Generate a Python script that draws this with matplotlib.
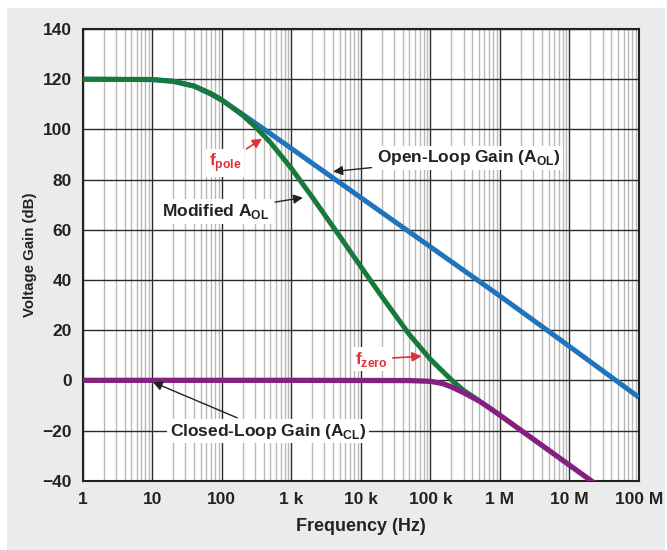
import numpy as np
import matplotlib
matplotlib.use("Agg")
import matplotlib.pyplot as plt
from matplotlib.patches import Rectangle
from matplotlib.ticker import FixedLocator, LogLocator, NullFormatter

plt.rcParams['font.family'] = ['Liberation Sans', 'DejaVu Sans']
plt.rcParams['mathtext.fontset'] = 'custom'
plt.rcParams['mathtext.rm'] = 'Liberation Sans'
plt.rcParams['mathtext.bf'] = 'Liberation Sans:bold'

# values (Hz, dB)
freq_ol = [1, 10, 20, 40, 70, 100, 200, 500, 1e3, 1e4, 1e5, 1e6, 1e7, 1e8]
gain_ol = [120, 119.8, 119.1, 117.2, 114.0, 111.6, 106.0, 98.3, 92.4, 72.8, 53.2, 33.6, 13.5, -6.8]

freq_mod = [1, 10, 20, 40, 70, 100, 200, 300, 500, 1e3, 2e3, 5e3, 1e4, 2e4, 5e4, 1e5, 2e5, 3e5, 5e5]
gain_mod = [120, 119.9, 119.2, 117.3, 114.3, 111.8, 105.6, 101.2, 94.8, 84.5, 73.0, 57.3, 45.3, 33.4, 18.2, 8.4, 0.2, -4.0, -8.1]

freq_cl = [1, 1e3, 5e4, 1e5, 1.5e5, 2e5, 3e5, 5e5, 7e5, 1e6, 2e6, 5e6, 1e7, 2e7, 3e7]
gain_cl = [0, 0, -0.1, -0.4, -1.3, -2.6, -4.9, -8.2, -10.9, -13.9, -19.9, -27.8, -33.8, -39.8, -43.3]

xticks = [1, 10, 100, 1e3, 1e4, 1e5, 1e6, 1e7, 1e8]
xlabels = ['1', '10', '100', '1 k', '10 k', '100 k', '1 M', '10 M', '100 M']
yticks = list(range(-40, 141, 20))

blue = '#1f74bd'
green = '#177a3a'
purple = '#84207f'
red = '#e2303a'
ink = '#222222'

fig = plt.figure(figsize=(6.67, 5.5), dpi=100, facecolor='white')
fig.patches.append(Rectangle((7 / 667, 0), 658 / 667, 542 / 550, transform=fig.transFigure,
                             facecolor='#ebebec', edgecolor='none', zorder=-10))
ax = fig.add_axes([82.7 / 667, 1 - 480.7 / 550, (639 - 82.7) / 667, (480.7 - 29) / 550])

ax.plot(freq_ol, gain_ol, color=blue, lw=3.6, zorder=3, solid_capstyle='butt')
ax.plot(freq_mod, gain_mod, color=green, lw=3.6, zorder=4, solid_capstyle='butt')
ax.plot(freq_cl, gain_cl, color=purple, lw=3.8, zorder=5, solid_capstyle='butt')

ax.set_xscale('log')
ax.set_xlim(1, 1e8)
ax.set_ylim(-40, 140)
ax.xaxis.set_major_locator(FixedLocator(xticks))
ax.set_xticklabels(xlabels)
ax.xaxis.set_minor_locator(LogLocator(base=10, subs=np.arange(2, 10), numticks=100))
ax.xaxis.set_minor_formatter(NullFormatter())
ax.set_yticks(yticks)
ax.set_yticklabels([str(v).replace('-', '\u2212') for v in yticks])

ax.grid(which='minor', axis='x', color='#b8b8b8', lw=1.0, zorder=0)
ax.grid(which='major', axis='both', color='#2b2b2b', lw=1.0, zorder=1)
ax.tick_params(which='both', length=0)
ax.tick_params(axis='x', pad=8)
ax.tick_params(axis='y', pad=8)
for lab in ax.get_xticklabels() + ax.get_yticklabels():
    lab.set_fontsize(12.5)
    lab.set_fontweight('bold')
    lab.set_color(ink)
for s in ax.spines.values():
    s.set_linewidth(1.5)
    s.set_color(ink)

ax.set_xlabel('Frequency (Hz)', fontsize=13, fontweight='bold', color=ink, labelpad=8)
ax.set_ylabel('Voltage Gain (dB)', fontsize=10.8, fontweight='bold', color=ink, labelpad=4)

box = dict(boxstyle='square,pad=0.15', facecolor='white', edgecolor='none')
black_arrow = dict(arrowstyle='-|>', color=ink, lw=1.0, mutation_scale=14, shrinkA=2, shrinkB=0)
red_arrow = dict(arrowstyle='-|>', color=red, lw=1.2, mutation_scale=14, shrinkA=2, shrinkB=0)

ax.annotate(r'f$_{\mathbf{pole}}$', xy=(380, 96.3), xytext=(112, 86.7), color=red,
            fontsize=12.5, fontweight='bold', ha='center', va='center',
            arrowprops=red_arrow, bbox=box, zorder=6)
ax.annotate(r'Open-Loop Gain (A$_{\mathbf{OL}}$)', xy=(4.0e3, 83.2), xytext=(17e3, 88.7),
            color=ink, fontsize=12.5, fontweight='bold', ha='left', va='center',
            arrowprops=black_arrow, bbox=box, zorder=6)
ax.annotate(r'Modified A$_{\mathbf{OL}}$', xy=(1.47e3, 72.8), xytext=(490, 67.3),
            color=ink, fontsize=12.5, fontweight='bold', ha='right', va='center',
            arrowprops=black_arrow, bbox=box, zorder=6)
ax.annotate(r'f$_{\mathbf{zero}}$', xy=(75e3, 9.6), xytext=(14e3, 8.4), color=red,
            fontsize=12.5, fontweight='bold', ha='center', va='center',
            arrowprops=red_arrow, bbox=box, zorder=6)
ax.annotate(r'Closed-Loop Gain (A$_{\mathbf{CL}}$)', xy=(10.2, -0.7), xytext=(18, -20.2),
            color=ink, fontsize=12.5, fontweight='bold', ha='left', va='center',
            arrowprops=black_arrow, bbox=box, zorder=6)

fig.savefig('out.png', dpi=100, facecolor=fig.get_facecolor())
